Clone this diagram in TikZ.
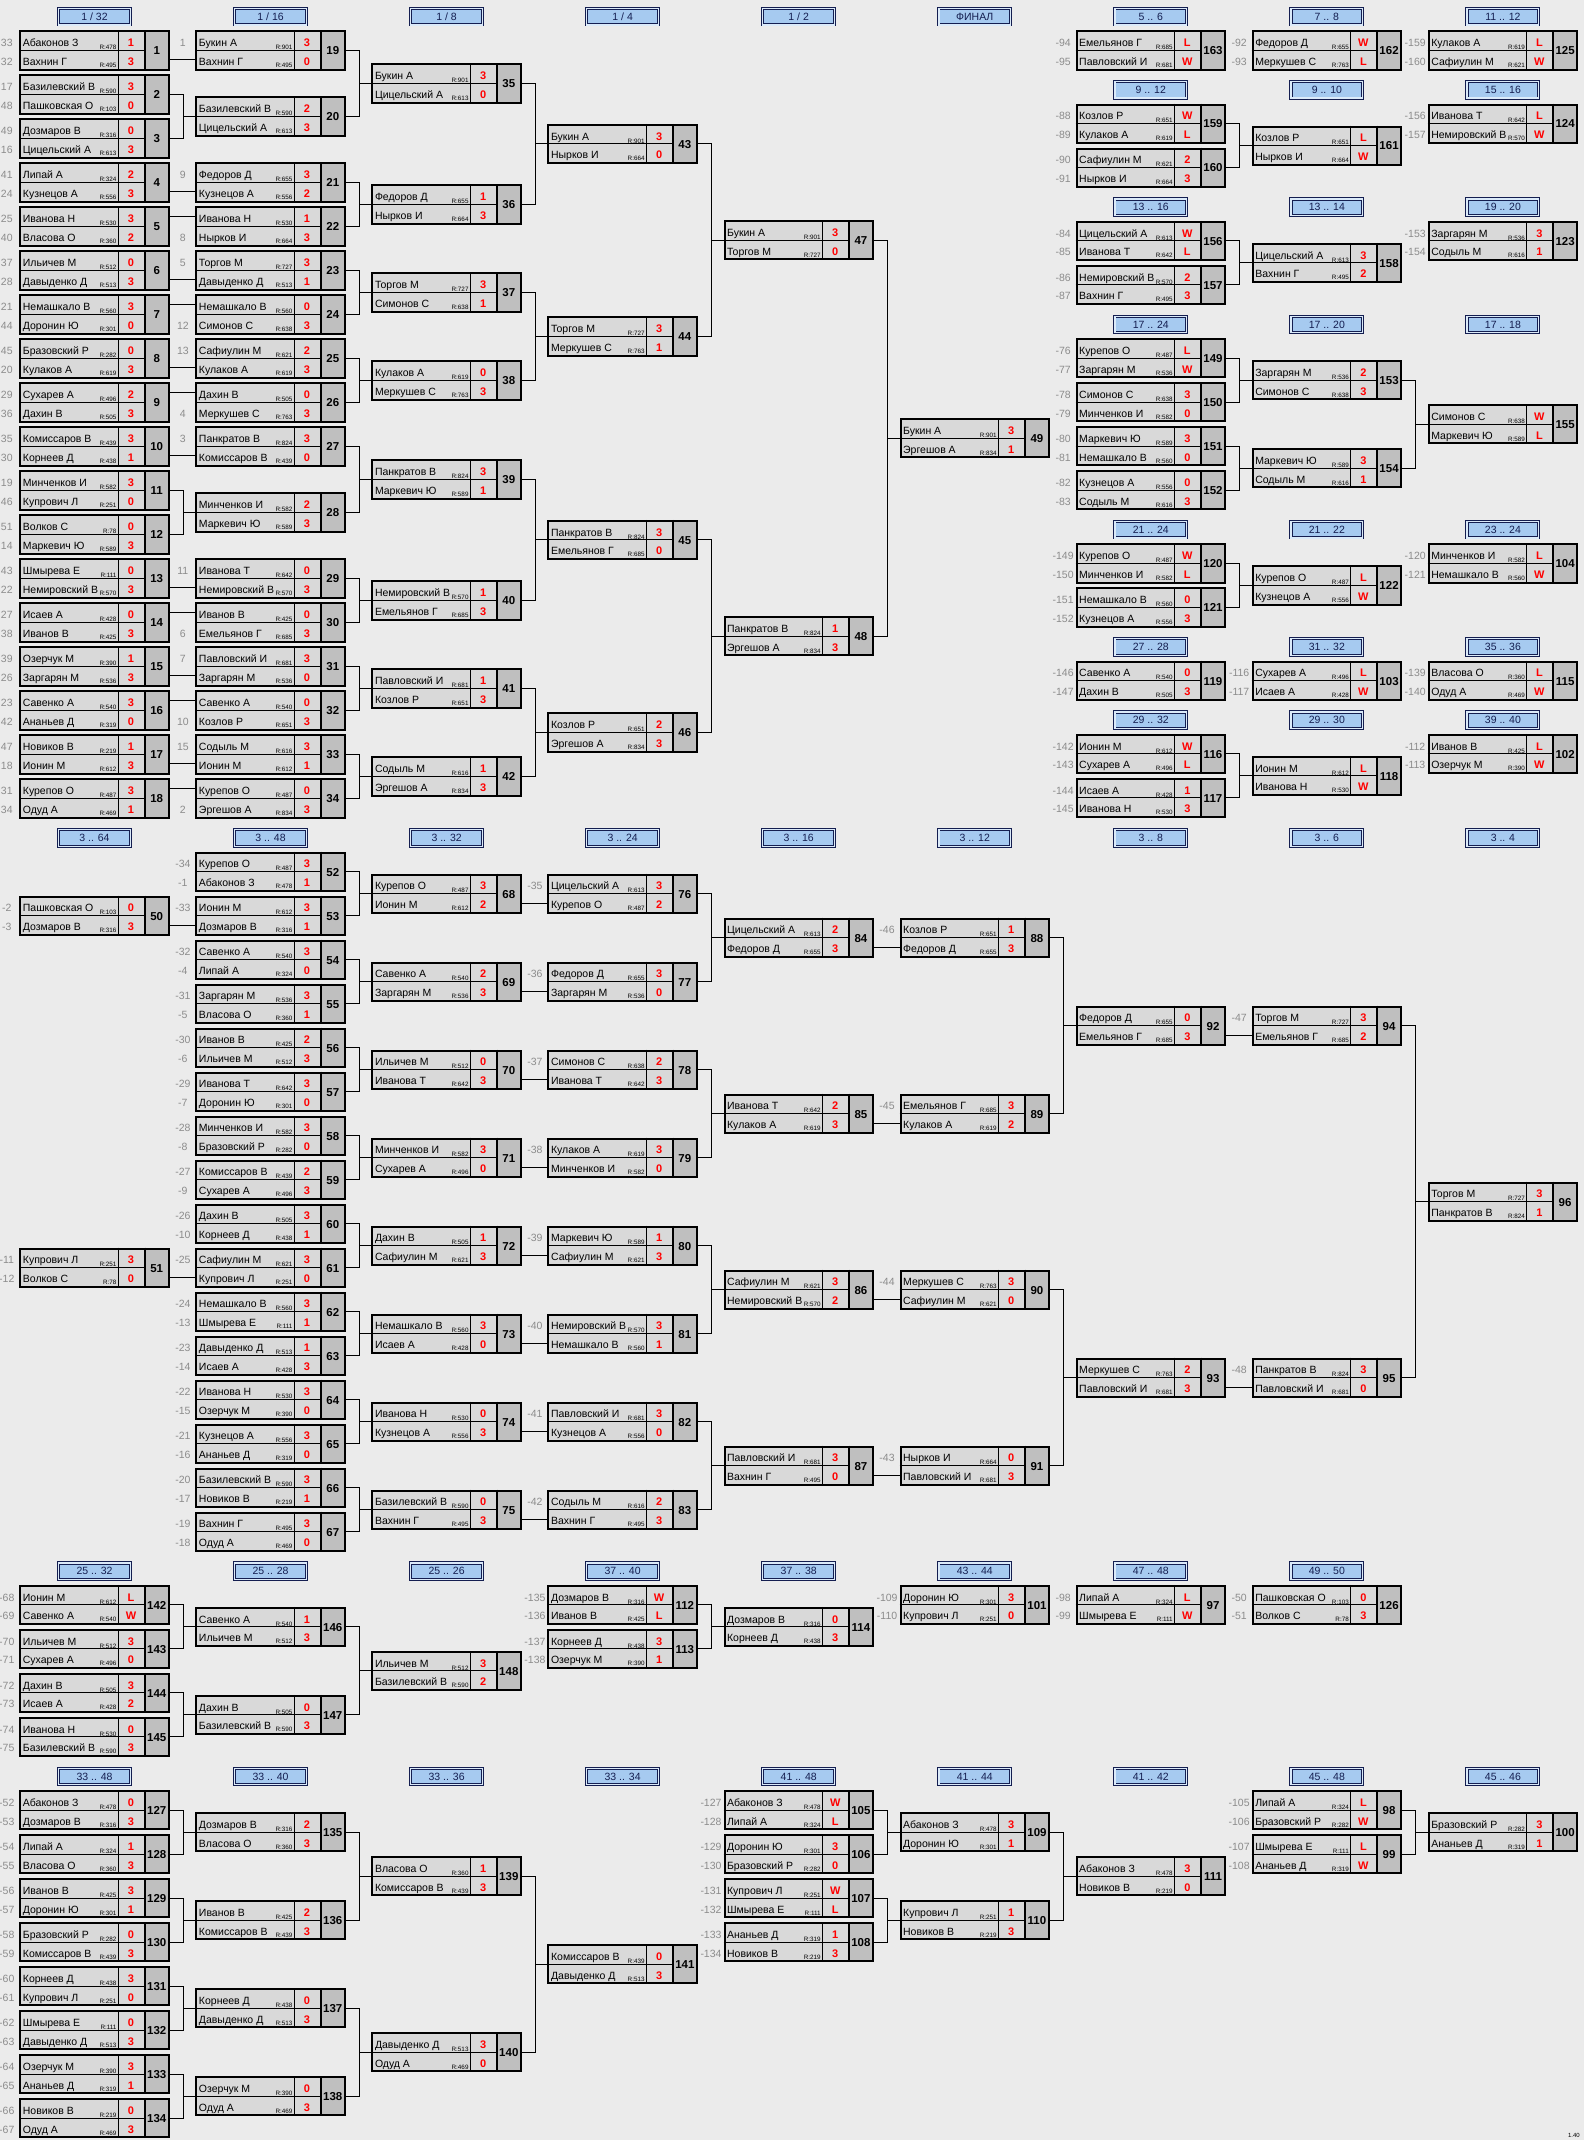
\documentclass[tikz,border=0pt]{standalone}
\usepackage{fontspec}
\setmainfont{Liberation Sans}
\usetikzlibrary{calc}
\definecolor{stagefill}{RGB}{166,202,240}
\definecolor{stageline}{RGB}{20,30,80}

\begin{document}
\begin{tikzpicture}[x=1pt, y=-1pt,
paper/.style={fill=black!8},
cell/.style={fill=black!15},
numcell/.style={fill=black!25},
matchbox/.style={draw, line width=2pt, minimum width=148.4pt, minimum height=38.3pt, inner sep=0pt},
stage/.style={draw=stageline, double=stagefill!40, double distance=1.3pt, line width=.9pt, fill=stagefill,
  minimum width=71.8pt, minimum height=16.4pt, inner sep=0pt, text=stageline, font=\fontsize{10.5}{12}\selectfont},
pname/.style={anchor=base west, inner sep=0pt, font=\fontsize{10.5}{12}\selectfont},
seed/.style={anchor=base, inner sep=0pt, text=black!45, font=\fontsize{10.5}{12}\selectfont},
rating/.style={anchor=base east, inner sep=0pt, font=\fontsize{6.3}{7}\selectfont},
score/.style={anchor=base, inner sep=0pt, text=red, font=\bfseries\fontsize{11}{13}\selectfont},
numtext/.style={anchor=base, inner sep=0pt, font=\bfseries\fontsize{11.5}{13}\selectfont},
link/.style={line width=1pt}]


%%%%%% SETTINGS %%%%%%%%%%

\pgfmathsetmacro{\colzero}{19.3}
\pgfmathsetmacro{\colstep}{176.05}

%%%%%% PAPER %%%%%%%%%%

\fill[paper] (0,0) rectangle (1584,2140);
\useasboundingbox (0,0) rectangle (1584,2140);

%%%%%% STAGES %%%%%%%%%%

\foreach \col/\hy/\htext [count=\i] in {
0/6.9/{1 / 32}, 1/6.9/{1 / 16}, 2/6.9/{1 / 8}, 3/6.9/{1 / 4}, 4/6.9/{1 / 2}, 5/6.9/{ФИНАЛ},
6/6.9/{5 .. 6}, 7/6.9/{7 .. 8}, 8/6.9/{11 .. 12},
6/80.15/{9 .. 12}, 7/80.15/{9 .. 10}, 8/80.15/{15 .. 16},
6/197.4/{13 .. 16}, 7/197.4/{13 .. 14}, 8/197.4/{19 .. 20},
6/314.65/{17 .. 24}, 7/314.65/{17 .. 20}, 8/314.65/{17 .. 18},
6/519.9/{21 .. 24}, 7/519.9/{21 .. 22}, 8/519.9/{23 .. 24},
6/637.15/{27 .. 28}, 7/637.15/{31 .. 32}, 8/637.15/{35 .. 36},
6/710.4/{29 .. 32}, 7/710.4/{29 .. 30}, 8/710.4/{39 .. 40},
0/828.15/{3 .. 64}, 1/828.15/{3 .. 48}, 2/828.15/{3 .. 32}, 3/828.15/{3 .. 24}, 4/828.15/{3 .. 16},
5/828.15/{3 .. 12}, 6/828.15/{3 .. 8}, 7/828.15/{3 .. 6}, 8/828.15/{3 .. 4},
0/1561.4/{25 .. 32}, 1/1561.4/{25 .. 28}, 2/1561.4/{25 .. 26}, 3/1561.4/{37 .. 40},
4/1561.4/{37 .. 38}, 5/1561.4/{43 .. 44}, 6/1561.4/{47 .. 48}, 7/1561.4/{49 .. 50},
0/1766.65/{33 .. 48}, 1/1766.65/{33 .. 40}, 2/1766.65/{33 .. 36}, 3/1766.65/{33 .. 34}, 4/1766.65/{41 .. 48},
5/1766.65/{41 .. 44}, 6/1766.65/{41 .. 42}, 7/1766.65/{45 .. 48}, 8/1766.65/{45 .. 46}}
{\node[stage] (h\i) at (\colzero+\colstep*\col+75.2, \hy+9.8) {\htext};}

%%%%%% MATCHES %%%%%%%%%%

\foreach \num/\col/\cy/\seedA/\nameA/\rateA/\scoreA/\seedB/\nameB/\rateB/\scoreB in {
% 1/32
1/0/50.45/33/Абаконов З/478/1/32/Вахнин Г/495/3,
2/0/94.45/17/Базилевский В/590/3/48/Пашковская О/103/0,
3/0/138.45/49/Дозмаров В/316/0/16/Цицельский А/613/3,
4/0/182.45/41/Липай А/324/2/24/Кузнецов А/556/3,
5/0/226.45/25/Иванова Н/530/3/40/Власова О/360/2,
6/0/270.45/37/Ильичев М/512/0/28/Давыденко Д/513/3,
7/0/314.45/21/Немашкало В/560/3/44/Доронин Ю/301/0,
8/0/358.45/45/Бразовский Р/282/0/20/Кулаков А/619/3,
9/0/402.45/29/Сухарев А/496/2/36/Дахин В/505/3,
10/0/446.45/35/Комиссаров В/439/3/30/Корнеев Д/438/1,
11/0/490.45/19/Минченков И/582/3/46/Купрович Л/251/0,
12/0/534.45/51/Волков С/78/0/14/Маркевич Ю/589/3,
13/0/578.45/43/Шмырева Е/111/0/22/Немировский В/570/3,
14/0/622.45/27/Исаев А/428/0/38/Иванов В/425/3,
15/0/666.45/39/Озерчук М/390/1/26/Заргарян М/536/3,
16/0/710.45/23/Савенко А/540/3/42/Ананьев Д/319/0,
17/0/754.45/47/Новиков В/219/1/18/Ионин М/612/3,
18/0/798.45/31/Курепов О/487/3/34/Одуд А/469/1,
% 1/16
19/1/50.45/1/Букин А/901/3/{}/Вахнин Г/495/0,
20/1/116.45/{}/Базилевский В/590/2/{}/Цицельский А/613/3,
21/1/182.45/9/Федоров Д/655/3/{}/Кузнецов А/556/2,
22/1/226.45/{}/Иванова Н/530/1/8/Нырков И/664/3,
23/1/270.45/5/Торгов М/727/3/{}/Давыденко Д/513/1,
24/1/314.45/{}/Немашкало В/560/0/12/Симонов С/638/3,
25/1/358.45/13/Сафиулин М/621/2/{}/Кулаков А/619/3,
26/1/402.45/{}/Дахин В/505/0/4/Меркушев С/763/3,
27/1/446.45/3/Панкратов В/824/3/{}/Комиссаров В/439/0,
28/1/512.45/{}/Минченков И/582/2/{}/Маркевич Ю/589/3,
29/1/578.45/11/Иванова Т/642/0/{}/Немировский В/570/3,
30/1/622.45/{}/Иванов В/425/0/6/Емельянов Г/685/3,
31/1/666.45/7/Павловский И/681/3/{}/Заргарян М/536/0,
32/1/710.45/{}/Савенко А/540/0/10/Козлов Р/651/3,
33/1/754.45/15/Содыль М/616/3/{}/Ионин М/612/1,
34/1/798.45/{}/Курепов О/487/0/2/Эргешов А/834/3,
% 1/8 .. final
35/2/83.45/{}/Букин А/901/3/{}/Цицельский А/613/0,
36/2/204.45/{}/Федоров Д/655/1/{}/Нырков И/664/3,
37/2/292.45/{}/Торгов М/727/3/{}/Симонов С/638/1,
38/2/380.45/{}/Кулаков А/619/0/{}/Меркушев С/763/3,
39/2/479.45/{}/Панкратов В/824/3/{}/Маркевич Ю/589/1,
40/2/600.45/{}/Немировский В/570/1/{}/Емельянов Г/685/3,
41/2/688.45/{}/Павловский И/681/1/{}/Козлов Р/651/3,
42/2/776.45/{}/Содыль М/616/1/{}/Эргешов А/834/3,
43/3/143.95/{}/Букин А/901/3/{}/Нырков И/664/0,
44/3/336.45/{}/Торгов М/727/3/{}/Меркушев С/763/1,
45/3/539.95/{}/Панкратов В/824/3/{}/Емельянов Г/685/0,
46/3/732.45/{}/Козлов Р/651/2/{}/Эргешов А/834/3,
47/4/240.2/{}/Букин А/901/3/{}/Торгов М/727/0,
48/4/636.2/{}/Панкратов В/824/1/{}/Эргешов А/834/3,
49/5/438.2/{}/Букин А/901/3/{}/Эргешов А/834/1,
% places 5 .. 40
163/6/50.45/-94/Емельянов Г/685/L/-95/Павловский И/681/W,
162/7/50.45/-92/Федоров Д/655/W/-93/Меркушев С/763/L,
125/8/50.45/-159/Кулаков А/619/L/-160/Сафиулин М/621/W,
159/6/123.7/-88/Козлов Р/651/W/-89/Кулаков А/619/L,
160/6/167.7/-90/Сафиулин М/621/2/-91/Нырков И/664/3,
161/7/145.7/{}/Козлов Р/651/L/{}/Нырков И/664/W,
124/8/123.7/-156/Иванова Т/642/L/-157/Немировский В/570/W,
156/6/240.95/-84/Цицельский А/613/W/-85/Иванова Т/642/L,
157/6/284.95/-86/Немировский В/570/2/-87/Вахнин Г/495/3,
158/7/262.95/{}/Цицельский А/613/3/{}/Вахнин Г/495/2,
123/8/240.95/-153/Заргарян М/536/3/-154/Содыль М/616/1,
149/6/358.2/-76/Курепов О/487/L/-77/Заргарян М/536/W,
150/6/402.2/-78/Симонов С/638/3/-79/Минченков И/582/0,
151/6/446.2/-80/Маркевич Ю/589/3/-81/Немашкало В/560/0,
152/6/490.2/-82/Кузнецов А/556/0/-83/Содыль М/616/3,
153/7/380.2/{}/Заргарян М/536/2/{}/Симонов С/638/3,
154/7/468.2/{}/Маркевич Ю/589/3/{}/Содыль М/616/1,
155/8/424.2/{}/Симонов С/638/W/{}/Маркевич Ю/589/L,
120/6/563.45/-149/Курепов О/487/W/-150/Минченков И/582/L,
121/6/607.45/-151/Немашкало В/560/0/-152/Кузнецов А/556/3,
122/7/585.45/{}/Курепов О/487/L/{}/Кузнецов А/556/W,
104/8/563.45/-120/Минченков И/582/L/-121/Немашкало В/560/W,
119/6/680.7/-146/Савенко А/540/0/-147/Дахин В/505/3,
103/7/680.7/-116/Сухарев А/496/L/-117/Исаев А/428/W,
115/8/680.7/-139/Власова О/360/L/-140/Одуд А/469/W,
116/6/753.95/-142/Ионин М/612/W/-143/Сухарев А/496/L,
117/6/797.95/-144/Исаев А/428/1/-145/Иванова Н/530/3,
118/7/775.95/{}/Ионин М/612/L/{}/Иванова Н/530/W,
102/8/753.95/-112/Иванов В/425/L/-113/Озерчук М/390/W,
% 3 .. 64
50/0/915.7/-2/Пашковская О/103/0/-3/Дозмаров В/316/3,
51/0/1267.7/-11/Купрович Л/251/3/-12/Волков С/78/0,
% 3 .. 48
52/1/871.7/-34/Курепов О/487/3/-1/Абаконов З/478/1,
53/1/915.7/-33/Ионин М/612/3/{}/Дозмаров В/316/1,
54/1/959.7/-32/Савенко А/540/3/-4/Липай А/324/0,
55/1/1003.7/-31/Заргарян М/536/3/-5/Власова О/360/1,
56/1/1047.7/-30/Иванов В/425/2/-6/Ильичев М/512/3,
57/1/1091.7/-29/Иванова Т/642/3/-7/Доронин Ю/301/0,
58/1/1135.7/-28/Минченков И/582/3/-8/Бразовский Р/282/0,
59/1/1179.7/-27/Комиссаров В/439/2/-9/Сухарев А/496/3,
60/1/1223.7/-26/Дахин В/505/3/-10/Корнеев Д/438/1,
61/1/1267.7/-25/Сафиулин М/621/3/{}/Купрович Л/251/0,
62/1/1311.7/-24/Немашкало В/560/3/-13/Шмырева Е/111/1,
63/1/1355.7/-23/Давыденко Д/513/1/-14/Исаев А/428/3,
64/1/1399.7/-22/Иванова Н/530/3/-15/Озерчук М/390/0,
65/1/1443.7/-21/Кузнецов А/556/3/-16/Ананьев Д/319/0,
66/1/1487.7/-20/Базилевский В/590/3/-17/Новиков В/219/1,
67/1/1531.7/-19/Вахнин Г/495/3/-18/Одуд А/469/0,
% 3 .. 32
68/2/893.7/{}/Курепов О/487/3/{}/Ионин М/612/2,
69/2/981.7/{}/Савенко А/540/2/{}/Заргарян М/536/3,
70/2/1069.7/{}/Ильичев М/512/0/{}/Иванова Т/642/3,
71/2/1157.7/{}/Минченков И/582/3/{}/Сухарев А/496/0,
72/2/1245.7/{}/Дахин В/505/1/{}/Сафиулин М/621/3,
73/2/1333.7/{}/Немашкало В/560/3/{}/Исаев А/428/0,
74/2/1421.7/{}/Иванова Н/530/0/{}/Кузнецов А/556/3,
75/2/1509.7/{}/Базилевский В/590/0/{}/Вахнин Г/495/3,
% 3 .. 24
76/3/893.7/-35/Цицельский А/613/3/{}/Курепов О/487/2,
77/3/981.7/-36/Федоров Д/655/3/{}/Заргарян М/536/0,
78/3/1069.7/-37/Симонов С/638/2/{}/Иванова Т/642/3,
79/3/1157.7/-38/Кулаков А/619/3/{}/Минченков И/582/0,
80/3/1245.7/-39/Маркевич Ю/589/1/{}/Сафиулин М/621/3,
81/3/1333.7/-40/Немировский В/570/3/{}/Немашкало В/560/1,
82/3/1421.7/-41/Павловский И/681/3/{}/Кузнецов А/556/0,
83/3/1509.7/-42/Содыль М/616/2/{}/Вахнин Г/495/3,
% 3 .. 16 .. 3 .. 4
84/4/937.7/{}/Цицельский А/613/2/{}/Федоров Д/655/3,
85/4/1113.7/{}/Иванова Т/642/2/{}/Кулаков А/619/3,
86/4/1289.7/{}/Сафиулин М/621/3/{}/Немировский В/570/2,
87/4/1465.7/{}/Павловский И/681/3/{}/Вахнин Г/495/0,
88/5/937.7/-46/Козлов Р/651/1/{}/Федоров Д/655/3,
89/5/1113.7/-45/Емельянов Г/685/3/{}/Кулаков А/619/2,
90/5/1289.7/-44/Меркушев С/763/3/{}/Сафиулин М/621/0,
91/5/1465.7/-43/Нырков И/664/0/{}/Павловский И/681/3,
92/6/1025.7/{}/Федоров Д/655/0/{}/Емельянов Г/685/3,
93/6/1377.7/{}/Меркушев С/763/2/{}/Павловский И/681/3,
94/7/1025.7/-47/Торгов М/727/3/{}/Емельянов Г/685/2,
95/7/1377.7/-48/Панкратов В/824/3/{}/Павловский И/681/0,
96/8/1201.7/{}/Торгов М/727/3/{}/Панкратов В/824/1,
% 25 .. 50
142/0/1604.95/-68/Ионин М/612/L/-69/Савенко А/540/W,
143/0/1648.95/-70/Ильичев М/512/3/-71/Сухарев А/496/0,
144/0/1692.95/-72/Дахин В/505/3/-73/Исаев А/428/2,
145/0/1736.95/-74/Иванова Н/530/0/-75/Базилевский В/590/3,
146/1/1626.95/{}/Савенко А/540/1/{}/Ильичев М/512/3,
147/1/1714.95/{}/Дахин В/505/0/{}/Базилевский В/590/3,
148/2/1670.95/{}/Ильичев М/512/3/{}/Базилевский В/590/2,
112/3/1604.95/-135/Дозмаров В/316/W/-136/Иванов В/425/L,
113/3/1648.95/-137/Корнеев Д/438/3/-138/Озерчук М/390/1,
114/4/1626.95/{}/Дозмаров В/316/0/{}/Корнеев Д/438/3,
101/5/1604.95/-109/Доронин Ю/301/3/-110/Купрович Л/251/0,
97/6/1604.95/-98/Липай А/324/L/-99/Шмырева Е/111/W,
126/7/1604.95/-50/Пашковская О/103/0/-51/Волков С/78/3,
% 33 .. 48
127/0/1810.2/-52/Абаконов З/478/0/-53/Дозмаров В/316/3,
128/0/1854.2/-54/Липай А/324/1/-55/Власова О/360/3,
129/0/1898.2/-56/Иванов В/425/3/-57/Доронин Ю/301/1,
130/0/1942.2/-58/Бразовский Р/282/0/-59/Комиссаров В/439/3,
131/0/1986.2/-60/Корнеев Д/438/3/-61/Купрович Л/251/0,
132/0/2030.2/-62/Шмырева Е/111/0/-63/Давыденко Д/513/3,
133/0/2074.2/-64/Озерчук М/390/3/-65/Ананьев Д/319/1,
134/0/2118.2/-66/Новиков В/219/0/-67/Одуд А/469/3,
135/1/1832.2/{}/Дозмаров В/316/2/{}/Власова О/360/3,
136/1/1920.2/{}/Иванов В/425/2/{}/Комиссаров В/439/3,
137/1/2008.2/{}/Корнеев Д/438/0/{}/Давыденко Д/513/3,
138/1/2096.2/{}/Озерчук М/390/0/{}/Одуд А/469/3,
139/2/1876.2/{}/Власова О/360/1/{}/Комиссаров В/439/3,
140/2/2052.2/{}/Давыденко Д/513/3/{}/Одуд А/469/0,
141/3/1964.2/{}/Комиссаров В/439/0/{}/Давыденко Д/513/3,
105/4/1810.2/-127/Абаконов З/478/W/-128/Липай А/324/L,
106/4/1854.2/-129/Доронин Ю/301/3/-130/Бразовский Р/282/0,
107/4/1898.2/-131/Купрович Л/251/W/-132/Шмырева Е/111/L,
108/4/1942.2/-133/Ананьев Д/319/1/-134/Новиков В/219/3,
109/5/1832.2/{}/Абаконов З/478/3/{}/Доронин Ю/301/1,
110/5/1920.2/{}/Купрович Л/251/1/{}/Новиков В/219/3,
111/6/1876.2/{}/Абаконов З/478/3/{}/Новиков В/219/0,
98/7/1810.2/-105/Липай А/324/L/-106/Бразовский Р/282/W,
99/7/1854.2/-107/Шмырева Е/111/L/-108/Ананьев Д/319/W,
100/8/1832.2/{}/Бразовский Р/282/3/{}/Ананьев Д/319/1}
{
\pgfmathsetmacro{\xx}{\colzero+\colstep*\col}
\fill[cell] (\xx,\cy-20.15) rectangle (\xx+125.4,\cy+20.15);
\fill[numcell] (\xx+125.4,\cy-20.15) rectangle (\xx+150.4,\cy+20.15);
\draw[link] (\xx,\cy) -- (\xx+125.4,\cy);
\draw[link] (\xx+99,\cy-20.15) -- (\xx+99,\cy+20.15);
\draw[line width=2pt] (\xx+125.4,\cy-20.15) -- (\xx+125.4,\cy+20.15);
\node[matchbox] (m\num) at (\xx+75.2,\cy) {};
\node[numtext] (m\num-n) at (\xx+137.4,\cy+4.3) {\num};
\coordinate (m\num-1) at (\xx,\cy-9.5);
\coordinate (m\num-2) at (\xx,\cy+9.5);
\node[seed] (m\num-sa) at (\xx-12.5,\cy-3.9) {\seedA};
\node[pname] (m\num-na) at (\xx+3.4,\cy-3.9) {\nameA};
\node[rating] (m\num-ra) at (\xx+97.3,\cy-0.8) {R:\rateA};
\node[score] (m\num-pa) at (\xx+111.7,\cy-3.9) {\scoreA};
\node[seed] (m\num-sb) at (\xx-12.5,\cy+15) {\seedB};
\node[pname] (m\num-nb) at (\xx+3.4,\cy+15) {\nameB};
\node[rating] (m\num-rb) at (\xx+97.3,\cy+16.9) {R:\rateB};
\node[score] (m\num-pb) at (\xx+111.7,\cy+15) {\scoreB};
}

%%%%%% LINKS %%%%%%%%%%

\foreach \src/\dst/\rw in {1/19/2, 4/21/2, 5/22/1, 6/23/2, 7/24/1, 8/25/2, 9/26/1, 10/27/2,
13/29/2, 14/30/1, 15/31/2, 16/32/1, 17/33/2, 18/34/1, 50/53/2, 51/61/2,
68/76/2, 69/77/2, 70/78/2, 71/79/2, 72/80/2, 73/81/2, 74/82/2, 75/83/2,
84/88/2, 85/89/2, 86/90/2, 87/91/2, 92/94/2, 93/95/2}
{\draw[link] (m\src.east |- m\dst-\rw) -- (m\dst-\rw);}

\foreach \upper/\lower/\dst in {2/3/20, 11/12/28,
19/20/35, 21/22/36, 23/24/37, 25/26/38, 27/28/39, 29/30/40, 31/32/41, 33/34/42,
35/36/43, 37/38/44, 39/40/45, 41/42/46, 43/44/47, 45/46/48, 47/48/49,
159/160/161, 156/157/158, 149/150/153, 151/152/154, 153/154/155, 120/121/122, 116/117/118,
52/53/68, 54/55/69, 56/57/70, 58/59/71, 60/61/72, 62/63/73, 64/65/74, 66/67/75,
76/77/84, 78/79/85, 80/81/86, 82/83/87, 88/89/92, 90/91/93, 94/95/96,
142/143/146, 144/145/147, 146/147/148, 112/113/114,
127/128/135, 129/130/136, 131/132/137, 133/134/138, 135/136/139, 137/138/140, 139/140/141,
105/106/109, 107/108/110, 109/110/111, 98/99/100}
{
\draw[link] (m\upper.east) -- ++(13.5,0) |- (m\dst.west);
\draw[link] (m\lower.east) -- ++(13.5,0) |- (m\dst.west);
}

\node[anchor=base east, inner sep=0pt, font=\fontsize{6}{7}\selectfont] (stamp) at (1580,2137) {1.40};

\end{tikzpicture}
\end{document}
